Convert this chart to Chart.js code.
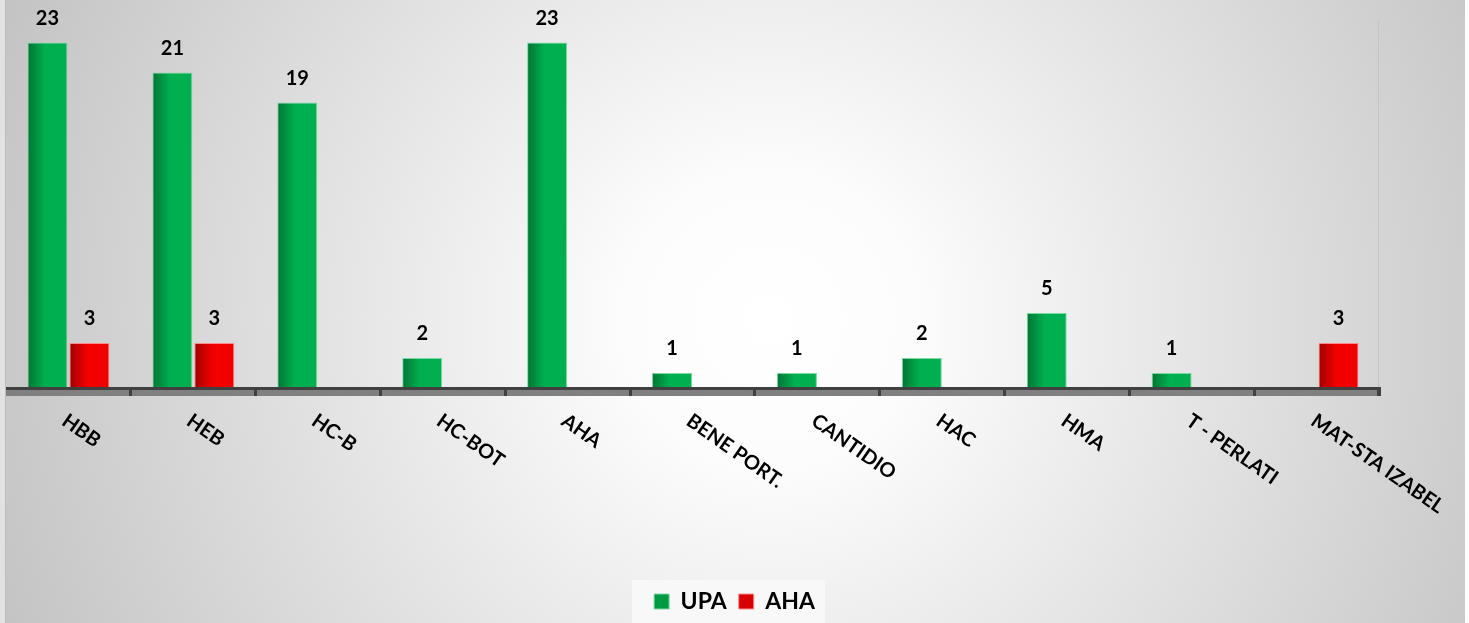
<!DOCTYPE html>
<html>
<head>
<meta charset="utf-8">
<script src="https://cdn.jsdelivr.net/npm/chart.js@4/dist/chart.umd.min.js"></script>
<style>
  html, body { margin: 0; padding: 0; background: #ffffff; }
  #wrap { width: 1469px; height: 623px; position: relative; }
</style>
</head>
<body>
<div id="wrap"><canvas id="c" width="1469" height="623"></canvas></div>
<script>
const categories = ['HBB', 'HEB', 'HC-B', 'HC-BOT', 'AHA', 'BENE PORT.', 'CANTIDIO', 'HAC', 'HMA', 'T - PERLATI', 'MAT-STA IZABEL'];
const upaValues = [23, 21, 19, 2, 23, 1, 1, 2, 5, 1, null];
const ahaValues = [3, 3, null, null, null, null, null, null, null, null, 3];
const seriesNames = ['UPA', 'AHA'];

const CAT_PCT = 0.672;
const BAR_PCT = 0.952;
const FONT = 'Lato, "Open Sans", sans-serif';

function barGradient(ctx, dark, mid) {
  const chart = ctx.chart;
  const xs = chart.scales && chart.scales.x;
  if (!chart.chartArea || !xs || ctx.type !== 'data') return mid;
  const cx = xs.getPixelForValue(ctx.dataIndex);
  const catW = xs.width / categories.length;
  const slot = catW * CAT_PCT / 2;
  const center = cx + (ctx.datasetIndex === 0 ? -slot / 2 : slot / 2);
  const bw = slot * BAR_PCT;
  const g = chart.ctx.createLinearGradient(center - bw / 2, 0, center + bw / 2, 0);
  g.addColorStop(0, dark);
  g.addColorStop(0.45, mid);
  g.addColorStop(1, mid);
  return g;
}

const bgPlugin = {
  id: 'bg',
  beforeDraw(chart) {
    const c = chart.ctx;
    c.save();
    c.fillStyle = '#ffffff';
    c.fillRect(0, 0, chart.width, chart.height);
    c.fillStyle = '#e2e2e2';
    c.fillRect(0, 0, 5, chart.height);
    const g = c.createRadialGradient(770, 320, 0, 770, 320, 820);
    g.addColorStop(0, '#ffffff');
    g.addColorStop(0.18, '#fcfcfc');
    g.addColorStop(1, '#c4c4c4');
    c.fillStyle = g;
    c.fillRect(5, 0, 1460, chart.height);
    c.fillStyle = '#bcbcbc';
    c.fillRect(5, 0, 1, chart.height);
    // legend backdrop
    const lg = chart.legend;
    if (lg && lg.legendHitBoxes && lg.legendHitBoxes.length) {
      const hb = lg.legendHitBoxes;
      const l = hb[0].left - 22, r = hb[hb.length - 1].left + hb[hb.length - 1].width + 10;
      c.fillStyle = 'rgba(248,248,248,0.9)';
      c.fillRect(l, 580, r - l, chart.height - 580);
    }
    c.restore();
  }
};

const axisPlugin = {
  id: 'axisDraw',
  afterDatasetsDraw(chart) {
    const c = chart.ctx;
    const a = chart.chartArea;
    const xs = chart.scales.x;
    c.save();
    // right thin line
    c.fillStyle = '#c4c4c4';
    c.fillRect(a.right - 2, a.top, 1, a.bottom - a.top);
    // floor band
    c.fillStyle = '#808080';
    c.fillRect(a.left, a.bottom + 2, a.right - a.left, 6);
    c.fillStyle = '#404040';
    c.fillRect(a.left, a.bottom - 1, a.right - a.left, 3);
    const catW = xs.width / categories.length;
    for (let i = 1; i <= categories.length; i++) {
      const x = Math.round(a.left + i * catW);
      c.fillRect(x - 2, a.bottom + 2, 3, 6);
    }
    c.fillRect(a.right - 3, a.bottom - 1, 4, 9);
    // data labels
    c.fillStyle = '#000000';
    c.font = 'bold 20px ' + FONT;
    c.textAlign = 'center';
    c.textBaseline = 'alphabetic';
    chart.data.datasets.forEach((ds, di) => {
      const meta = chart.getDatasetMeta(di);
      meta.data.forEach((el, i) => {
        const v = ds.data[i];
        if (v === null || v === undefined) return;
        c.fillText(String(v), el.x, el.y - 18);
      });
    });
    // rotated category labels
    c.font = 'bold 20px ' + FONT;
    c.textAlign = 'left';
    c.textBaseline = 'alphabetic';
    categories.forEach((lab, i) => {
      const x = xs.getPixelForValue(i);
      c.save();
      c.translate(x - 8, a.bottom + 36);
      c.rotate(35 * Math.PI / 180);
      c.fillText(lab, 0, 0);
      c.restore();
    });
    c.restore();
  }
};

const chart = new Chart(document.getElementById('c'), {
  type: 'bar',
  data: {
    labels: categories,
    datasets: [
      {
        label: seriesNames[0],
        data: upaValues,
        backgroundColor: (ctx) => barGradient(ctx, '#007534', '#00b050'),
        borderColor: '#7ad9a0',
        borderWidth: 1,
        categoryPercentage: CAT_PCT,
        barPercentage: BAR_PCT
      },
      {
        label: seriesNames[1],
        data: ahaValues,
        backgroundColor: (ctx) => barGradient(ctx, '#a00000', '#f20000'),
        borderColor: '#ff8a8a',
        borderWidth: 1,
        categoryPercentage: CAT_PCT,
        barPercentage: BAR_PCT
      }
    ]
  },
  options: {
    responsive: false,
    animation: false,
    layout: { padding: { top: 20, left: 0, right: 0, bottom: 0 } },
    scales: {
      x: {
        display: true,
        grid: { display: false },
        border: { display: false },
        ticks: { display: false },
        afterFit(scale) { scale.height = 190; }
      },
      y: {
        display: true,
        min: 0,
        max: 24.5,
        grid: { display: false },
        border: { display: false },
        ticks: { display: false },
        afterFit(scale) { scale.width = 6; }
      },
      y2: {
        display: true,
        position: 'right',
        min: 0,
        max: 24.5,
        grid: { display: false },
        border: { display: false },
        ticks: { display: false },
        afterFit(scale) { scale.width = 89; }
      }
    },
    plugins: {
      tooltip: { enabled: false },
      legend: {
        display: true,
        position: 'bottom',
        labels: {
          color: '#000000',
          font: { family: FONT, size: 23, weight: 'bold' },
          boxWidth: 15,
          boxHeight: 15,
          padding: 12,
          generateLabels(ch) {
            return [
              { text: seriesNames[0], fillStyle: '#009a45', strokeStyle: '#7ad9a0', lineWidth: 1, datasetIndex: 0, hidden: false },
              { text: seriesNames[1], fillStyle: '#d80000', strokeStyle: '#ff8a8a', lineWidth: 1, datasetIndex: 1, hidden: false }
            ];
          }
        }
      }
    }
  },
  plugins: [bgPlugin, axisPlugin]
});
</script>
</body>
</html>
